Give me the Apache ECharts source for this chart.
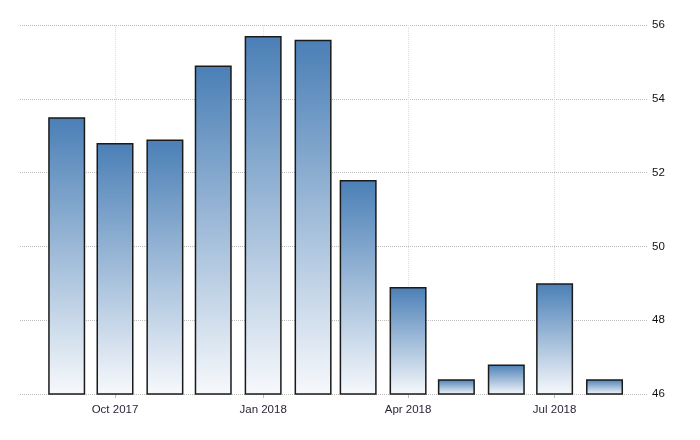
<!DOCTYPE html>
<html>
<head>
<meta charset="utf-8">
<script src="https://cdn.jsdelivr.net/npm/echarts@6/dist/echarts.min.js"></script>
<style>html,body{margin:0;padding:0;background:#fff}#c{width:700px;height:440px}</style>
</head>
<body>
<div id="c"></div>
<script>
const months = ['2017-09-01','2017-10-01','2017-11-01','2017-12-01','2018-01-01','2018-02-01','2018-03-01','2018-04-01','2018-05-01','2018-06-01','2018-07-01','2018-08-01'];
const values = [53.5, 52.8, 52.9, 54.9, 55.7, 55.6, 51.8, 48.9, 46.4, 46.8, 49.0, 46.4];
const xTickDates = ['2017-10-01','2018-01-01','2018-04-01','2018-07-01'];
const monthNames = ['Jan','Feb','Mar','Apr','May','Jun','Jul','Aug','Sep','Oct','Nov','Dec'];
const yMin = 46, yMax = 56, yStep = 2;
const xMinDate = '2017-08-03', xMaxDate = '2018-08-28';

const ts = s => { const p = s.split('-').map(Number); return Date.UTC(p[0], p[1]-1, p[2]); };
const font = "'Liberation Sans',Arial,sans-serif";

const chart = echarts.init(document.getElementById('c'));
chart.setOption({
  animation: false,
  grid: { left: 20, right: 52, top: 25, bottom: 46 },
  xAxis: {
    type: 'value',
    min: ts(xMinDate), max: ts(xMaxDate),
    axisLine: { show: false },
    axisTick: { show: true, length: 4, lineStyle: { color: '#bbb' }, customValues: xTickDates.map(ts) },
    axisLabel: {
      customValues: xTickDates.map(ts),
      color: '#2e2438', fontSize: 11.5, fontFamily: font, margin: 10,
      formatter: v => { const d = new Date(v); return monthNames[d.getUTCMonth()] + ' ' + d.getUTCFullYear(); }
    },
    splitLine: { show: true, lineStyle: { color: '#dedede', type: 'dotted', width: 1 } }
  },
  yAxis: {
    type: 'value', position: 'right',
    min: yMin, max: yMax, interval: yStep,
    axisLine: { show: false }, axisTick: { show: false },
    axisLabel: { color: '#111', fontSize: 11.5, fontFamily: font, margin: 4 },
    splitLine: { show: true, lineStyle: { color: '#bdbdbd', type: 'dotted', width: 1 } }
  },
  series: [{
    type: 'bar',
    barWidth: 37,
    data: months.map((m, i) => [ts(m), values[i]]),
    itemStyle: {
      borderColor: '#1a1a1a', borderWidth: 1.5,
      color: new echarts.graphic.LinearGradient(0, 0, 0, 1, [
        { offset: 0, color: '#4a7fb6' },
        { offset: 1, color: '#f7f9fc' }
      ])
    }
  }]
});
</script>
</body>
</html>
